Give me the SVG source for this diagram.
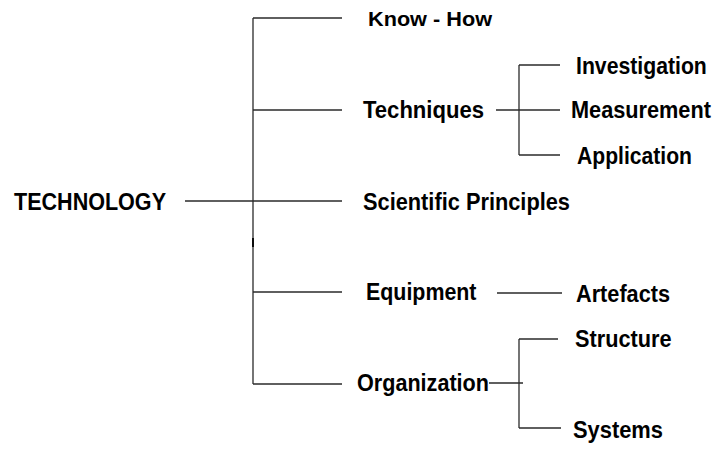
<svg xmlns="http://www.w3.org/2000/svg" width="717" height="449" viewBox="0 0 717 449">
<style>
.c line{stroke:#2a2a2a;stroke-width:1.3;fill:none}
text{font-family:"Liberation Sans",Arial,sans-serif;font-weight:bold;font-size:23.5px;fill:#000}
</style>
<rect width="717" height="449" fill="#fff"/>
<g id="connectors" class="c">
<line x1="253" y1="18" x2="253" y2="384"/>
<line x1="253" y1="18" x2="342" y2="18"/>
<line x1="253" y1="110" x2="342" y2="110"/>
<line x1="185" y1="201" x2="342" y2="201"/>
<line x1="253" y1="292" x2="342" y2="292"/>
<line x1="253" y1="384" x2="342" y2="384"/>
<line x1="253" y1="238" x2="253" y2="247" style="stroke:#000;stroke-width:1.8"/>
<line x1="519" y1="65" x2="519" y2="155"/>
<line x1="519" y1="65" x2="560" y2="65"/>
<line x1="496" y1="110" x2="560" y2="110"/>
<line x1="519" y1="155" x2="560" y2="155"/>
<line x1="497" y1="293" x2="562" y2="293"/>
<line x1="489" y1="383" x2="523" y2="383"/>
<line x1="519" y1="339" x2="519" y2="428"/>
<line x1="519" y1="339" x2="558" y2="339"/>
<line x1="519" y1="428" x2="561" y2="428"/>
</g>
<g id="technology"><text x="14" y="210" textLength="152" lengthAdjust="spacingAndGlyphs">TECHNOLOGY</text></g>
<g id="knowhow"><text x="368" y="26" style="font-size:19.5px" textLength="124" lengthAdjust="spacingAndGlyphs">Know - How</text></g>
<g id="techniques"><text x="363" y="118" textLength="121" lengthAdjust="spacingAndGlyphs">Techniques</text></g>
<g id="scientific"><text x="363" y="210" textLength="207" lengthAdjust="spacingAndGlyphs">Scientific Principles</text></g>
<g id="equipment"><text x="366" y="300" textLength="110.5" lengthAdjust="spacingAndGlyphs">Equipment</text></g>
<g id="organization"><text x="357" y="391" textLength="132" lengthAdjust="spacingAndGlyphs">Organization</text></g>
<g id="investigation"><text transform="translate(576,74) scale(0.903,1)" x="0" y="0">Investigation</text></g>
<g id="measurement"><text transform="translate(571,118) scale(0.924,1)" x="0" y="0">Measurement</text></g>
<g id="application"><text x="577" y="164" textLength="115" lengthAdjust="spacingAndGlyphs">Application</text></g>
<g id="artefacts"><text x="576" y="302" textLength="94" lengthAdjust="spacingAndGlyphs">Artefacts</text></g>
<g id="structure"><text x="575" y="347" textLength="96.5" lengthAdjust="spacingAndGlyphs">Structure</text></g>
<g id="systems"><text x="573" y="438" textLength="90" lengthAdjust="spacingAndGlyphs">Systems</text></g>
</svg>
